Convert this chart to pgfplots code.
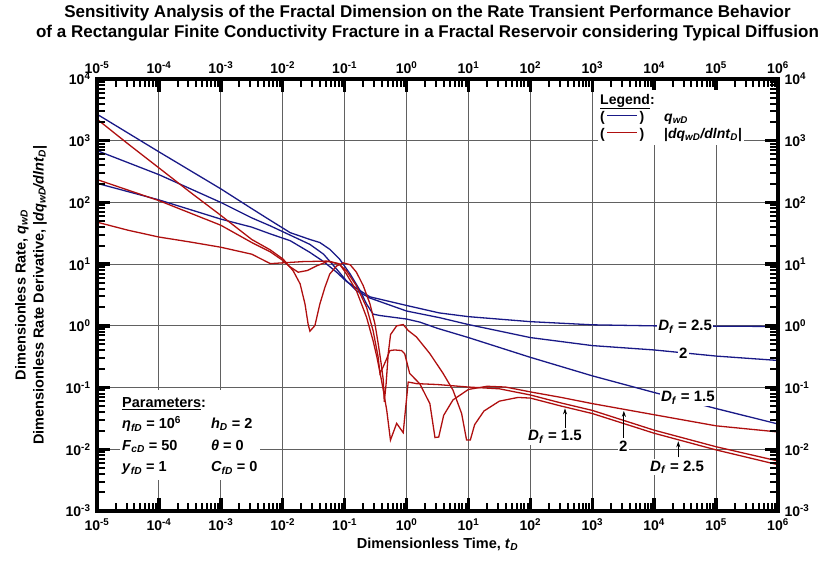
\documentclass[border=0pt]{standalone}
\usepackage{fontspec}
\setmainfont{Liberation Sans}
\usepackage{pgfplots}
\pgfplotsset{compat=1.18}
\usetikzlibrary{arrows.meta}
\definecolor{cblue}{RGB}{25,25,135}
\definecolor{cred}{RGB}{175,15,15}
\newcommand{\sub}[1]{\textsubscript{\textit{#1}}}
\newcommand{\Df}{\textit{D}\sub{f}}
% one decade of minor ticks, bottom (up) / top (down) / left (right) / right (left)
\def\decXb{++(18.637pt,0pt) -- ++(0pt,8pt) ++(10.901pt,-8pt) -- ++(0pt,8pt) ++(7.735pt,-8pt) -- ++(0pt,8pt) ++(6.0pt,-8pt) -- ++(0pt,8pt) ++(4.902pt,-8pt) -- ++(0pt,8pt) ++(4.145pt,-8pt) -- ++(0pt,8pt) ++(3.590pt,-8pt) -- ++(0pt,8pt) ++(3.167pt,-8pt) -- ++(0pt,8pt) ++(2.832pt,-8pt)}
\def\decXt{++(18.637pt,0pt) -- ++(0pt,-8pt) ++(10.901pt,8pt) -- ++(0pt,-8pt) ++(7.735pt,8pt) -- ++(0pt,-8pt) ++(6.0pt,8pt) -- ++(0pt,-8pt) ++(4.902pt,8pt) -- ++(0pt,-8pt) ++(4.145pt,8pt) -- ++(0pt,-8pt) ++(3.590pt,8pt) -- ++(0pt,-8pt) ++(3.167pt,8pt) -- ++(0pt,-8pt) ++(2.832pt,8pt)}
\def\decYl{++(0pt,18.578pt) -- ++(8pt,0pt) ++(-8pt,10.868pt) -- ++(8pt,0pt) ++(-8pt,7.711pt) -- ++(8pt,0pt) ++(-8pt,5.980pt) -- ++(8pt,0pt) ++(-8pt,4.887pt) -- ++(8pt,0pt) ++(-8pt,4.131pt) -- ++(8pt,0pt) ++(-8pt,3.579pt) -- ++(8pt,0pt) ++(-8pt,3.157pt) -- ++(8pt,0pt) ++(-8pt,2.823pt)}
\def\decYr{++(0pt,18.578pt) -- ++(-8pt,0pt) ++(8pt,10.868pt) -- ++(-8pt,0pt) ++(8pt,7.711pt) -- ++(-8pt,0pt) ++(8pt,5.980pt) -- ++(-8pt,0pt) ++(8pt,4.887pt) -- ++(-8pt,0pt) ++(8pt,4.131pt) -- ++(-8pt,0pt) ++(8pt,3.579pt) -- ++(-8pt,0pt) ++(8pt,3.157pt) -- ++(-8pt,0pt) ++(8pt,2.823pt)}
\def\majXb{++(61.909pt,0pt) -- ++(0pt,13pt) ++(0pt,-13pt)}
\def\majXt{++(61.909pt,0pt) -- ++(0pt,-13pt) ++(0pt,13pt)}
\def\majYl{++(0pt,61.714pt) -- ++(13pt,0pt) ++(-13pt,0pt)}
\def\majYr{++(0pt,61.714pt) -- ++(-13pt,0pt) ++(13pt,0pt)}
\begin{document}
\begin{tikzpicture}
\begin{axis}[name=main,
  xmode=log, ymode=log, scale only axis, width=681pt, height=432pt,
  xmin=1e-5, xmax=1e6, ymin=1e-3, ymax=1e4,
  xtick={1e-5,1e-4,1e-3,1e-2,1e-1,1,10,100,1e3,1e4,1e5,1e6},
  ytick={1e-3,1e-2,1e-1,1,10,100,1e3,1e4},
  xticklabels={10\textsuperscript{-5},10\textsuperscript{-4},10\textsuperscript{-3},10\textsuperscript{-2},10\textsuperscript{-1},10\textsuperscript{0},10\textsuperscript{1},10\textsuperscript{2},10\textsuperscript{3},10\textsuperscript{4},10\textsuperscript{5},10\textsuperscript{6}},
  yticklabels={10\textsuperscript{-3},10\textsuperscript{-2},10\textsuperscript{-1},10\textsuperscript{0},10\textsuperscript{1},10\textsuperscript{2},10\textsuperscript{3},10\textsuperscript{4}},
  tick label style={font=\bfseries\fontsize{14}{16}\selectfont},
  xticklabel shift=4pt, yticklabel shift=3pt,
  grid=major, major grid style={black!62, line width=0.9pt},
  major tick length=0pt, minor tick length=0pt,
  axis line style={draw=none},
  xlabel={Dimensionless Time, \textit{t}\sub{D}},
  ylabel={Dimensionless Rate, \textit{q}\sub{wD}\\Dimensionless Rate Derivative, |\textit{dq}\sub{wD}\textit{/dlnt}\sub{D}|},
  label style={font=\bfseries\fontsize{14.5}{18}\selectfont},
  ylabel style={align=center, yshift=12pt},
  every axis plot/.append style={line width=1.3pt},
]
% q_wD, D_f = 1.5
\addplot[cblue] coordinates {(1e-5,2692)(1e-4,661)(1e-3,166)(3.16e-3,79.4)(6.31e-3,51.3)(0.0132,32.4)(0.0275,25.1)(0.0398,22.4)(0.0575,17.4)(0.0832,12.0)(0.123,6.92)(0.178,3.72)(0.226,2.26)(0.288,1.55)(0.372,1.47)(1,1.29)(1.64,1.15)(3.16,0.912)(10,0.646)(100,0.309)(1000,0.155)(1e4,0.0832)(1e5,0.0457)(1e6,0.0257)};
% q_wD, D_f = 2
\addplot[cblue] coordinates {(1e-5,692)(1e-4,282)(1e-3,100)(3.16e-3,56.2)(6.31e-3,41.7)(0.0132,29.5)(0.0275,20.9)(0.0457,14.5)(0.0741,8.32)(0.107,5.37)(0.155,3.72)(0.257,2.82)(1,1.74)(3.39,1.36)(10,1.05)(100,0.646)(1000,0.479)(1e4,0.407)(1e5,0.324)(1e6,0.275)};
% q_wD, D_f = 2.5
\addplot[cblue] coordinates {(1e-5,204)(1e-4,110)(1e-3,53.7)(3.16e-3,39.8)(6.31e-3,30.9)(0.0132,24.0)(0.0275,15.5)(0.0457,11.0)(0.0741,7.41)(0.107,5.25)(0.178,3.72)(0.257,2.95)(1,2.14)(3.39,1.62)(10,1.41)(100,1.17)(1000,1.04)(1e4,1.0)(1e5,0.989)(1e6,0.977)};
% derivative A
\addplot[cred] coordinates {(1e-5,2239)(3.16e-5,891)(1e-4,363)(3.16e-4,148)(1e-3,61.7)(3.16e-3,25.1)(6.31e-3,17.0)(0.0102,12.0)(0.0148,7.76)(0.0191,4.79)(0.0229,2.26)(0.0257,1.07)(0.0275,0.82)(0.0331,1.01)(0.0398,2.26)(0.0479,4.17)(0.0575,6.92)(0.0741,9.33)(0.0955,10.5)(0.123,9.77)(0.155,7.41)(0.2,4.47)(0.257,2.26)(0.309,1.07)(0.349,0.513)(0.389,0.245)(0.421,0.132)(0.437,0.0589)(0.468,0.116)(0.506,0.355)(0.552,0.724)(0.692,1.0)(0.883,1.05)(1.064,0.841)(1.445,0.661)(2.38,0.355)(3.89,0.170)(5.62,0.0912)(7.76,0.038)(9.33,0.0141)(10.7,0.0141)(12.6,0.0251)(17.8,0.0417)(31.6,0.0603)(63.1,0.0692)(100,0.0676)(316,0.0501)(1000,0.038)(1e4,0.0182)(1e5,0.00977)(1e6,0.00562)};
% derivative B
\addplot[cred] coordinates {(1e-5,235)(1e-4,107)(1e-3,42.7)(3.16e-3,22.4)(6.31e-3,15.8)(0.01,11.5)(0.0126,9.3)(0.0178,7.4)(0.0251,7.9)(0.0355,9.4)(0.055,11.2)(0.0794,10.2)(0.107,7.8)(0.155,4.47)(0.226,2.0)(0.288,0.84)(0.347,0.316)(0.372,0.17)(0.417,0.214)(0.479,0.295)(0.537,0.398)(0.646,0.407)(0.832,0.398)(0.933,0.355)(1.122,0.17)(1.64,0.115)(2.38,0.055)(2.88,0.0155)(3.31,0.0158)(3.98,0.0355)(5.62,0.0631)(10,0.0933)(20,0.105)(39.8,0.102)(100,0.0851)(316,0.0692)(1000,0.055)(1e4,0.0363)(1e5,0.024)(1e6,0.0191)};
% derivative C
\addplot[cred] coordinates {(1e-5,47.9)(3.16e-5,35.5)(1e-4,27.5)(3.16e-4,22.9)(1e-3,18.8)(3.16e-3,14.5)(6.31e-3,10.2)(0.0214,11.0)(0.0513,11.2)(0.0832,10)(0.107,6.92)(0.155,3.72)(0.226,1.38)(0.288,0.575)(0.331,0.316)(0.372,0.178)(0.421,0.0912)(0.479,0.0427)(0.55,0.0141)(0.692,0.0263)(0.883,0.0186)(1.064,0.123)(1.445,0.116)(3.16,0.112)(10,0.102)(31.6,0.0955)(100,0.0759)(316,0.0562)(1000,0.0427)(1e4,0.0204)(1e5,0.011)(1e6,0.00646)};
\coordinate (leg) at (rel axis cs:0.7357,0.9745);
\coordinate (par) at (rel axis cs:0.0338,0.280);
\coordinate (L1) at (axis cs:3.16e4,0.96);
\coordinate (L2) at (axis cs:2.95e4,0.36);
\coordinate (L3) at (axis cs:3.5e4,0.068);
\coordinate (L4) at (axis cs:250,0.0158);
\coordinate (L5) at (axis cs:3.16e3,0.0112);
\coordinate (L6) at (axis cs:2.34e4,0.0051);
\coordinate (A1s) at (axis cs:363,0.022);
\coordinate (A1e) at (axis cs:363,0.046);
\coordinate (A2s) at (axis cs:3236,0.0155);
\coordinate (A2e) at (axis cs:3236,0.042);
\coordinate (A3s) at (axis cs:2.45e4,0.0074);
\coordinate (A3e) at (axis cs:2.45e4,0.0135);
\end{axis}
\begin{axis}[
  xmode=log, ymode=log, scale only axis, width=681pt, height=432pt,
  xmin=1e-5, xmax=1e6, ymin=1e-3, ymax=1e4,
  xtick={1e-5,1e-4,1e-3,1e-2,1e-1,1,10,100,1e3,1e4,1e5,1e6},
  ytick={1e-3,1e-2,1e-1,1,10,100,1e3,1e4},
  xticklabels={10\textsuperscript{-5},10\textsuperscript{-4},10\textsuperscript{-3},10\textsuperscript{-2},10\textsuperscript{-1},10\textsuperscript{0},10\textsuperscript{1},10\textsuperscript{2},10\textsuperscript{3},10\textsuperscript{4},10\textsuperscript{5},10\textsuperscript{6}},
  yticklabels={10\textsuperscript{-3},10\textsuperscript{-2},10\textsuperscript{-1},10\textsuperscript{0},10\textsuperscript{1},10\textsuperscript{2},10\textsuperscript{3},10\textsuperscript{4}},
  tick label style={font=\bfseries\fontsize{14}{16}\selectfont},
  xticklabel shift=2pt, yticklabel shift=3pt,
  xticklabel pos=right, yticklabel pos=right,
  major tick length=0pt, minor tick length=0pt,
  axis line style={black, line width=3.5pt},
]
\end{axis}
% frame ticks (inside)
\draw[black, line width=2pt] (main.south west) \decXb\decXb\decXb\decXb\decXb\decXb\decXb\decXb\decXb\decXb\decXb;
\draw[black, line width=2pt] (main.north west) \decXt\decXt\decXt\decXt\decXt\decXt\decXt\decXt\decXt\decXt\decXt;
\draw[black, line width=2pt] (main.south west) \decYl\decYl\decYl\decYl\decYl\decYl\decYl;
\draw[black, line width=2pt] (main.south east) \decYr\decYr\decYr\decYr\decYr\decYr\decYr;
\draw[black, line width=3.5pt] (main.south west) \majXb\majXb\majXb\majXb\majXb\majXb\majXb\majXb\majXb\majXb;
\draw[black, line width=3.5pt] (main.north west) \majXt\majXt\majXt\majXt\majXt\majXt\majXt\majXt\majXt\majXt;
\draw[black, line width=3.5pt] (main.south west) \majYl\majYl\majYl\majYl\majYl\majYl;
\draw[black, line width=3.5pt] (main.south east) \majYr\majYr\majYr\majYr\majYr\majYr;
\tikzset{cl/.style={fill=white, inner sep=1.5pt, font=\bfseries\fontsize{15}{17}\selectfont}}
\node[anchor=north west, fill=white, inner sep=2pt, font=\bfseries\fontsize{14}{17}\selectfont] at (leg) {%
\begin{tabular}{@{}l@{\hspace{20pt}}l@{}}
\multicolumn{2}{@{}l}{\underline{Legend}:}\\[0pt]
(\,\textcolor{cblue}{\rule[0.33em]{30pt}{1.3pt}}\,) & \textit{q}\sub{wD}\\[0pt]
(\,\textcolor{cred}{\rule[0.33em]{30pt}{1.3pt}}\,) & |\textit{dq}\sub{wD}\textit{/dlnt}\sub{D}|
\end{tabular}};
\node[anchor=north west, fill=white, inner sep=2pt, font=\bfseries\fontsize{14.5}{21.5}\selectfont] at (par) {%
\begin{tabular}{@{}l@{\hspace{30pt}}l@{}}
\multicolumn{2}{@{}l}{\underline{Parameters}:}\\
\textit{η}\sub{fD} = 10\textsuperscript{6} & \textit{h}\sub{D} = 2\\
\textit{F}\sub{cD} = 50 & \textit{θ} = 0\\
\textit{y}\sub{fD} = 1 & \textit{C}\sub{fD} = 0
\end{tabular}};
\node[cl] at (L1) {\Df{} = 2.5};
\node[cl] at (L2) {2};
\node[cl] at (L3) {\Df{} = 1.5};
\draw[-{Stealth[length=6pt,width=4pt]}, line width=0.9pt] (A1s) -- (A1e);
\draw[-{Stealth[length=6pt,width=4pt]}, line width=0.9pt] (A2s) -- (A2e);
\draw[-{Stealth[length=6pt,width=4pt]}, line width=0.9pt] (A3s) -- (A3e);
\node[cl] at (L4) {\Df{} = 1.5};
\node[cl] at (L5) {2};
\node[cl] at (L6) {\Df{} = 2.5};
\node[font=\bfseries\fontsize{17}{20}\selectfont, align=center] at ([xshift=-10pt,yshift=56pt]main.north) {Sensitivity Analysis of the Fractal Dimension on the Rate Transient Performance Behavior\\of a Rectangular Finite Conductivity Fracture in a Fractal Reservoir considering Typical Diffusion};
\pgfresetboundingbox
\path[use as bounding box] ([xshift=-97pt,yshift=-60pt]main.south west) rectangle ([xshift=40pt,yshift=79pt]main.north east);
\end{tikzpicture}
\end{document}
